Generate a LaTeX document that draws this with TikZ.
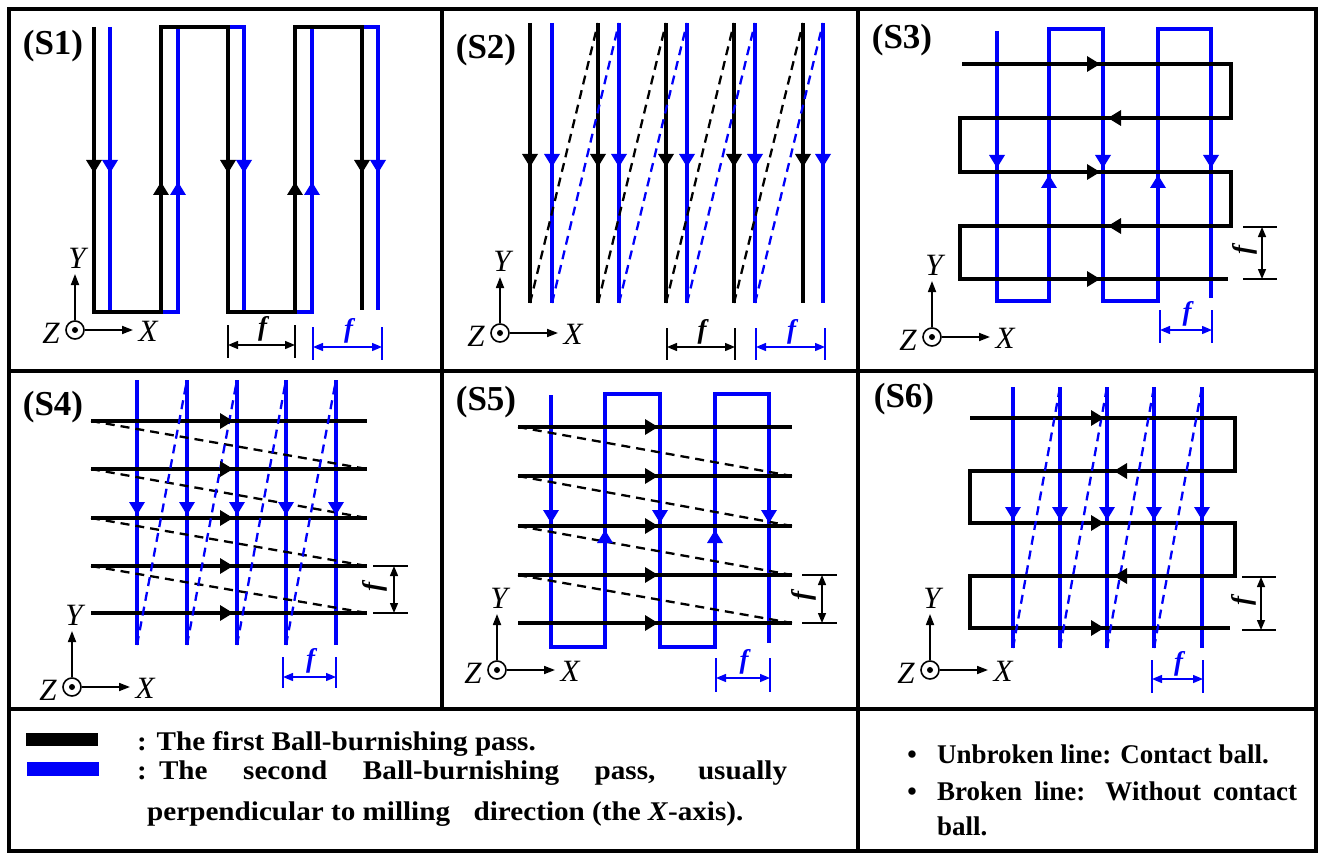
\documentclass[tikz,border=0pt]{standalone}
\usepackage{fontspec}
\setmainfont{Liberation Serif}
\newfontfamily\legL{Liberation Serif}[FakeStretch=1.08]
\usetikzlibrary{arrows.meta}
\definecolor{pb}{RGB}{0,0,250}
\tikzset{
 bk/.style={line width=4.6pt, black, line join=miter},
 bl/.style={line width=4.6pt, pb, line join=miter},
 dk/.style={line width=2.3pt, black, dash pattern=on 9pt off 6pt},
 db/.style={line width=2.3pt, pb, dash pattern=on 9pt off 6pt},
 thinl/.style={line width=1.4pt},
 dimarr/.style={line width=1.4pt, {Triangle[length=10pt,width=8pt]}-{Triangle[length=10pt,width=8pt]}},
 axarr/.style={line width=1.7pt, -{Triangle[length=11pt,width=8pt]}},
 border/.style={line width=3.6pt, line cap=rect},
 plabel/.style={font=\fontsize{35}{40}\selectfont\bfseries, inner sep=0pt},
 axlabel/.style={font=\fontsize{31}{34}\selectfont\itshape, inner sep=0pt},
 flabel/.style={font=\fontsize{27}{29}\selectfont\bfseries\itshape, inner sep=0pt},
 legl/.style={anchor=base west, inner sep=0pt, font=\legL\bfseries\fontsize{27}{30}\selectfont},
 legr/.style={anchor=base west, inner sep=0pt, font=\bfseries\fontsize{27}{32}\selectfont},
}
\newcommand\arrD[3]{\fill[#3] (#1-8,#2-13)--(#1+8,#2-13)--(#1,#2)--cycle;}
\newcommand\arrU[3]{\fill[#3] (#1-8,#2+13)--(#1+8,#2+13)--(#1,#2)--cycle;}
\newcommand\arrR[3]{\fill[#3] (#1-13,#2-8)--(#1-13,#2+8)--(#1,#2)--cycle;}
\newcommand\arrL[3]{\fill[#3] (#1+13,#2-8)--(#1+13,#2+8)--(#1,#2)--cycle;}
\newcommand\axesat[3]{%
 \node[draw, circle, line width=1.6pt, minimum size=18pt, inner sep=0pt] (#3o) at (#1,#2) {};
 \fill (#1,#2) circle (3pt);
 \draw[axarr] (#3o.north) -- (#1,#2-56);
 \draw[axarr] (#3o.east) -- (#1+58,#2);
 \node[axlabel] (#3y) at (#1+2,#2-72) {Y};
 \node[axlabel] (#3x) at (#1+73,#2+1) {X};
 \node[axlabel] (#3z) at (#1-24,#2+3) {Z};
}
\newcommand\hdim[7]{%
 \draw[thinl,#6] (#1,#3)--(#1,#4) (#2,#3)--(#2,#4);
 \draw[dimarr,#6] (#1,#5)--(#2,#5);
 \node[flabel,text=#6] (#7) at ({(#1+#2)/2+1},#3+4) {f};
}
\newcommand\vdim[6]{%
 \draw[thinl] (#3,#1)--(#4,#1) (#3,#2)--(#4,#2);
 \draw[dimarr] (#5,#1)--(#5,#2);
 \node[flabel,rotate=90] (#6) at (#3+2,{(#1+#2)/2-3}) {f};
}
\begin{document}
\begin{tikzpicture}[x=1pt,y=-1pt]
\fill[white] (0,0) rectangle (1319,853);
\useasboundingbox (0,0) rectangle (1319,853);
% borders
\draw[border] (9,9) rectangle (1316,851);
\draw[border] (9,371)--(1316,371);
\draw[border] (9,709)--(1316,709);
\draw[border] (442,9)--(442,709);
\draw[border] (858,9)--(858,851);

% ---------- S1
\draw[bl] (110,27)--(110,312)--(178,312)--(178,27)--(244,27)--(244,312)--(312,312)--(312,27)--(378,27)--(378,310);
\draw[bk] (94,27)--(94,312)--(161,312)--(161,27)--(228,27)--(228,312)--(295,312)--(295,27)--(362,27)--(362,310);
\foreach \x in {94,228,362} {\arrD{\x}{173}{black}}
\foreach \x in {110,244,378} {\arrD{\x}{173}{pb}}
\foreach \x in {161,295} {\arrU{\x}{182}{black}}
\foreach \x in {178,312} {\arrU{\x}{182}{pb}}
\hdim{228}{295}{325}{358}{345}{black}{f1a}
\hdim{313}{382}{327}{360}{347}{pb}{f1b}
\axesat{75}{330}{a1}
\node[plabel] (s1) at (53,46) {(S1)};

% ---------- S2
\foreach \x in {552,619,687,755,823} {\draw[bl] (\x,23)--(\x,303); \arrD{\x}{167}{pb}}
\foreach \x in {530,598,666,734,803} {\draw[bk] (\x,23)--(\x,303); \arrD{\x}{167}{black}}
\foreach \a/\b in {530/598,598/666,666/734,734/803} {\draw[dk] (\a,303)--(\b,23);}
\foreach \a/\b in {552/619,619/687,687/755,755/823} {\draw[db] (\a,303)--(\b,23);}
\hdim{667}{735}{328}{360}{347}{black}{f2a}
\hdim{756}{825}{328}{360}{347}{pb}{f2b}
\axesat{500}{333}{a2}
\node[plabel] (s2) at (486,50) {(S2)};

% ---------- S3
\draw[bl] (997,31)--(997,301)--(1049,301)--(1049,29)--(1103,29)--(1103,301)--(1158,301)--(1158,29)--(1211,29)--(1211,298);
\draw[bk] (962,64)--(1231,64)--(1231,118)--(960,118)--(960,172)--(1231,172)--(1231,226)--(960,226)--(960,279)--(1228,279);
\foreach \y in {64,172,279} {\arrR{1100}{\y}{black}}
\foreach \y in {118,226} {\arrL{1108}{\y}{black}}
\foreach \x in {997,1103,1211} {\arrD{\x}{168}{pb}}
\foreach \x in {1049,1158} {\arrU{\x}{175}{pb}}
\vdim{227}{279}{1243}{1277}{1262}{f3a}
\hdim{1160}{1212}{310}{343}{330}{pb}{f3b}
\axesat{932}{337}{a3}
\node[plabel] (s3) at (902,40) {(S3)};

% ---------- S4
\foreach \x in {137,187,237,286,336} {\draw[bl] (\x,380)--(\x,645);}
\foreach \y in {421,469,518,566,613} {\draw[bk] (91,\y)--(367,\y);}
\foreach \a/\b in {421/469,469/518,518/566,566/613} {\draw[dk] (91,\a)--(367,\b);}
\foreach \a/\b in {137/187,187/237,237/286,286/336} {\draw[db] (\a,645)--(\b,380);}
\foreach \y in {421,469,518,566,613} {\arrR{233}{\y}{black}}
\foreach \x in {137,187,237,286,336} {\arrD{\x}{515}{pb}}
\vdim{566}{613}{373}{408}{394}{f4a}
\hdim{283}{336}{657}{688}{677}{pb}{f4b}
\axesat{72}{687}{a4}
\node[plabel] (s4) at (53,407) {(S4)};

% ---------- S5
\draw[bl] (551,395)--(551,647)--(605,647)--(605,394)--(660,394)--(660,647)--(715,647)--(715,394)--(769,394)--(769,643);
\foreach \y in {427,476,526,575,623} {\draw[bk] (518,\y)--(792,\y);}
\foreach \a/\b in {427/476,476/526,526/575,575/623} {\draw[dk] (518,\a)--(792,\b);}
\foreach \y in {427,476,526,575,623} {\arrR{658}{\y}{black}}
\foreach \x in {551,660,769} {\arrD{\x}{523}{pb}}
\foreach \x in {605,715} {\arrU{\x}{530}{pb}}
\vdim{575}{623}{802}{837}{822}{f5a}
\hdim{716}{770}{658}{692}{678}{pb}{f5b}
\axesat{497}{670}{a5}
\node[plabel] (s5) at (486,402) {(S5)};

% ---------- S6
\foreach \x in {1013,1060,1107,1154,1202} {\draw[bl] (\x,387)--(\x,648);}
\draw[bk] (970,418)--(1235,418)--(1235,471)--(970,471)--(970,523)--(1235,523)--(1235,576)--(970,576)--(970,628)--(1230,628);
\foreach \a/\b in {1013/1060,1060/1107,1107/1154,1154/1202} {\draw[db] (\a,648)--(\b,387);}
\foreach \y in {418,523,628} {\arrR{1104}{\y}{black}}
\foreach \y in {471,576} {\arrL{1114}{\y}{black}}
\foreach \x in {1013,1060,1107,1154,1202} {\arrD{\x}{520}{pb}}
\vdim{577}{630}{1242}{1276}{1261}{f6a}
\hdim{1152}{1203}{660}{693}{679}{pb}{f6b}
\axesat{930}{670}{a6}
\node[plabel] (s6) at (904,399) {(S6)};

% ---------- legend
\fill[black] (26,733) rectangle (98,746);
\fill[pb] (27,762) rectangle (99,776);
\node[legl] (l1) at (137,750) {: The first Ball-burnishing pass.};
\node[legl] (l2) at (137,779) {\makebox[650pt][s]{\mbox{:\hspace{0.45em}The} second Ball-burnishing pass, usually}};
\node[legl] (l3) at (147,820) {perpendicular to milling\hspace{0.6em} direction (the \textit{X}-axis).};

\node[legr, anchor=base] (b1) at (912,763) {\textbullet};
\node[legr] (r1) at (937,763) {Unbroken line: Contact ball.};
\node[legr, anchor=base] (b2) at (912,800) {\textbullet};
\node[legr] (r2) at (937,800) {\makebox[360pt][s]{Broken line: Without contact}};
\node[legr] (r3) at (937,835) {ball.};
\end{tikzpicture}
\end{document}
